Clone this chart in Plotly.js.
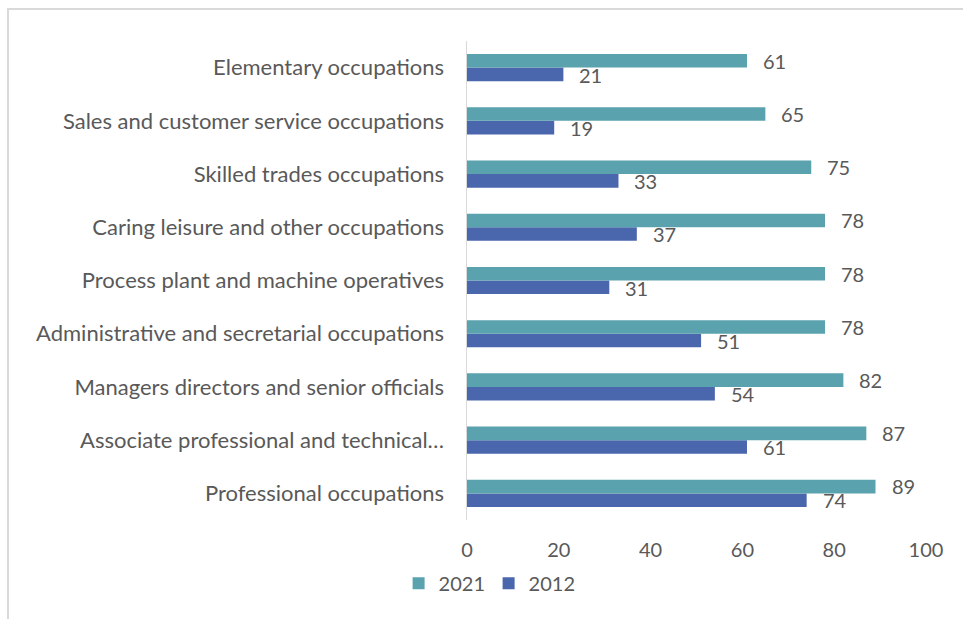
<!DOCTYPE html>
<html>
<head>
<meta charset="utf-8">
<script src="https://cdn.plot.ly/plotly-3.0.1.min.js"></script>
<style>
  html, body { margin: 0; padding: 0; background: #ffffff; }
  #wrap { position: relative; width: 963px; height: 619px; overflow: hidden; }
  #frame { position: absolute; left: 7px; top: 8px; width: 1000px; height: 700px;
           border-top: 2px solid #D9D9D9; border-left: 2px solid #D9D9D9; }
  #chart { position: absolute; left: 0; top: 0; width: 963px; height: 619px; }
</style>
</head>
<body>
<div id="wrap">
  <div id="frame"></div>
  <div id="chart"></div>
</div>
<script>
// Categories listed bottom to top
const categories = [
  "Professional occupations",
  "Associate professional and technical…",
  "Managers directors and senior officials",
  "Administrative and secretarial occupations",
  "Process plant and machine operatives",
  "Caring leisure and other occupations",
  "Skilled trades occupations",
  "Sales and customer service occupations",
  "Elementary occupations"
];
const values2021 = [89, 87, 82, 78, 78, 78, 75, 65, 61];
const values2012 = [74, 61, 54, 51, 31, 37, 33, 19, 21];
const seriesNames = ["2021", "2012"];
const xTicks = [0, 20, 40, 60, 80, 100];

const FONT = "Lato, 'Liberation Sans', Arial, sans-serif";
const TXT = "#595959";
const C2021 = "#5AA2AE";
const C2012 = "#4A66AC";

// Plotly draws horizontal grouped bars with the first trace at the bottom of each group,
// so 2012 is listed first to put 2021 on top.
const traces = [
  {
    type: "bar", orientation: "h", name: seriesNames[1],
    y: categories, x: values2012,
    marker: { color: C2012, line: { width: 0 } },
    showlegend: true, legendrank: 2, hoverinfo: "x+y"
  },
  {
    type: "bar", orientation: "h", name: seriesNames[0],
    y: categories, x: values2021,
    marker: { color: C2021, line: { width: 0 } },
    showlegend: true, legendrank: 1, hoverinfo: "x+y"
  }
];

const annotations = [];
categories.forEach((c, i) => {
  annotations.push({
    x: values2021[i], y: c, xref: "x", yref: "y",
    text: String(values2021[i]), showarrow: false,
    xanchor: "left", yanchor: "middle", xshift: 14, yshift: 7,
    font: { family: FONT, size: 20, color: TXT }
  });
  annotations.push({
    x: values2012[i], y: c, xref: "x", yref: "y",
    text: String(values2012[i]), showarrow: false,
    xanchor: "left", yanchor: "middle", xshift: 14, yshift: -7,
    font: { family: FONT, size: 20, color: TXT }
  });
});

const layout = {
  width: 963, height: 619,
  paper_bgcolor: "rgba(0,0,0,0)", plot_bgcolor: "rgba(0,0,0,0)",
  margin: { l: 466.5, r: 36.5, t: 40.7, b: 99.4, pad: 0 },
  barmode: "group", bargap: 0.49, bargroupgap: 0,
  font: { family: FONT, size: 20, color: TXT },
  xaxis: {
    range: [0, 100], tickvals: xTicks, ticktext: xTicks.map(String),
    showgrid: false, zeroline: false, showline: false,
    ticks: "outside", ticklen: 12, tickcolor: "rgba(0,0,0,0)",
    tickfont: { family: FONT, size: 20, color: TXT }, fixedrange: true
  },
  yaxis: {
    type: "category", categoryorder: "array", categoryarray: categories,
    showgrid: false, zeroline: false,
    showline: true, linecolor: "#D9D9D9", linewidth: 1.5,
    ticks: "outside", ticklen: 17, tickcolor: "rgba(0,0,0,0)",
    tickfont: { family: FONT, size: 22, color: TXT }, fixedrange: true
  },
  legend: {
    orientation: "h", x: -0.149, xanchor: "left", y: -0.132, yanchor: "middle",
    traceorder: "normal", font: { family: FONT, size: 20, color: TXT },
    itemwidth: 30, entrywidth: 45, entrywidthmode: "pixels",
    bgcolor: "rgba(0,0,0,0)"
  },
  annotations: annotations,
  showlegend: true
};

Plotly.newPlot("chart", traces, layout, { displayModeBar: false, staticPlot: true });
</script>
</body>
</html>
